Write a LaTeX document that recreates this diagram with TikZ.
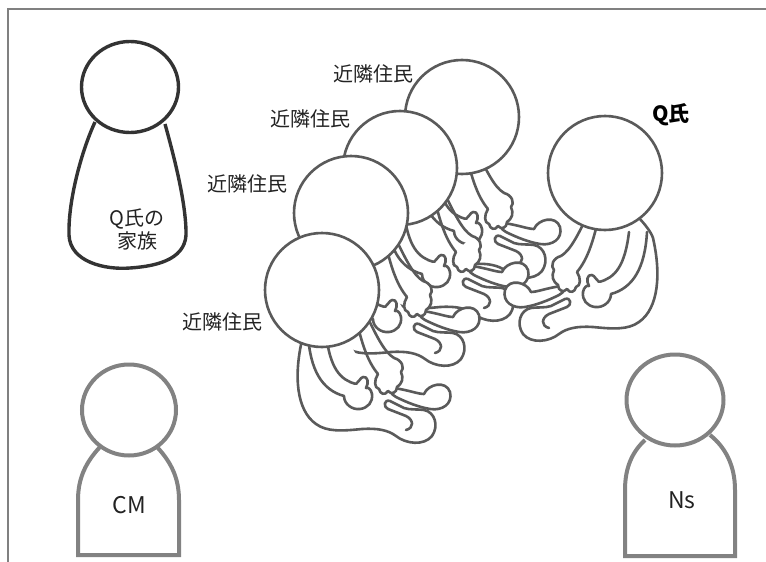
\documentclass[tikz,border=0pt]{standalone}
\usepackage{fontspec}
\setmainfont{Noto Sans CJK JP}
\definecolor{framegray}{HTML}{808080}
\definecolor{famgray}{HTML}{333333}
\definecolor{figgray}{HTML}{5A5A5A}
\definecolor{staffgray}{HTML}{828282}
\definecolor{textgray}{HTML}{222222}

\tikzset{
    figline/.style={draw=figgray, line width=2.6pt, line cap=round, line join=round},
    label/.style={text=textgray, font=\fontsize{20}{23}\selectfont, inner sep=0pt},
    head/.style={figline, fill=white},
    % body, arms and feet of a person sitting on the floor, looking to the right
    % (the head is drawn on its own afterwards)
    sitter/.pic={
        %body
        \fill[white] (-4,28) .. controls (-12,36) and (-18,44) .. (-20,50)
            .. controls (-28,85) and (-26,120) .. (-6,134)
            .. controls (5,142) and (20,141) .. (40,139)
            .. controls (55,138) and (66,140) .. (74,146) -- (60,110) -- (20,40) -- cycle;
        \draw[figline] (-4,28) .. controls (-12,36) and (-18,44) .. (-20,50)
            .. controls (-28,85) and (-26,120) .. (-6,134)
            .. controls (5,142) and (20,141) .. (40,139)
            .. controls (55,138) and (66,140) .. (74,146);
        %lower foot
        \filldraw[figline, fill=white] (74,146) .. controls (84,154) and (102,156) .. (110,146)
            .. controls (117,136) and (113,122) .. (102,120)
            .. controls (94,119) and (88,120) .. (82,118) -- (68,111)
            .. controls (62,109) and (61,117) .. (66,119) -- (84,126)
            .. controls (92,130) and (92,138) .. (84,140);
        %upper foot
        \filldraw[figline, fill=white] (72,98) .. controls (86,100) and (96,104) .. (102,104)
            .. controls (106,94) and (124,90) .. (128,102)
            .. controls (131,114) and (120,121) .. (108,119)
            .. controls (96,117) and (84,112) .. (74,107)
            .. controls (68,104) and (67,99) .. (72,98) -- cycle;
        %far arm
        \draw[figline] (34,28) .. controls (40,55) and (46,72) .. (56,84);
        \draw[figline] (42,20) .. controls (54,45) and (62,62) .. (72,68);
        \filldraw[figline, fill=white] (56,84) .. controls (52,90) and (52,98) .. (57,99)
            .. controls (58,104) and (63,106) .. (66,101)
            .. controls (69,105) and (75,103) .. (75,97)
            .. controls (80,94) and (82,88) .. (79,82)
            .. controls (83,78) and (80,70) .. (72,68);
        %near arm
        \draw[figline] (-14,44) .. controls (-12,80) and (0,100) .. (22,106);
        \draw[figline] (4,44) .. controls (8,78) and (18,90) .. (34,94);
        \filldraw[figline, fill=white] (22,106) .. controls (22,114) and (30,120) .. (38,119)
            .. controls (46,118) and (51,112) .. (50,104)
            .. controls (49,99) and (46,97) .. (44,98)
            .. controls (47,93) and (46,86) .. (41,87)
            .. controls (38,88) and (37,92) .. (34,94);
    }
}

\begin{document}
\begin{tikzpicture}[x=1pt, y=-1pt]
    \useasboundingbox (0,0) rectangle (766,562);

    %frame
    \draw[framegray, line width=1.4pt] (8,562) -- (8,9) -- (766,9);

    %family
    \draw[famgray, line width=3.4pt] (95,122) .. controls (82,150) and (68,200) .. (69,235)
        .. controls (70,262) and (105,270) .. (130,268)
        .. controls (160,266) and (188,258) .. (186,230)
        .. controls (185,200) and (175,160) .. (165,124);
    \filldraw[famgray, fill=white, line width=3.4pt] (130,87) ellipse (48.5pt and 45.5pt);
    \node[label] (fam) at (137,232) {\begin{tabular}{@{}c@{}}Q氏の\\家族\end{tabular}};

    %neighbours, back to front
    \pic at (432,125) {sitter};
    \filldraw[head] (462,117) circle (57pt);
    \pic at (400,168) {sitter};
    \filldraw[head] (400,168) circle (57pt);
    \pic at (351,213) {sitter};
    \filldraw[head] (351,213) circle (57pt);
    \pic at (322,290) {sitter};
    \filldraw[head] (322,290) circle (57pt);

    %Q, facing the neighbours
    \pic[xscale=-1] at (633,188) {sitter};
    \filldraw[head] (605,173) circle (57pt);

    %labels
    \node[label] (nb1) at (373,74) {近隣住民};
    \node[label] (nb2) at (310,119) {近隣住民};
    \node[label] (nb3) at (247,184) {近隣住民};
    \node[label] (nb4) at (222,322) {近隣住民};
    \node[label, text=black, font=\fontsize{21}{24}\bfseries] (q) at (671,115) {Q氏};

    %CM
    \draw[staffgray, line width=4pt] (100,447) .. controls (86,462) and (78,478) .. (78,500)
        -- (78,555) -- (179,555) -- (179,500) .. controls (179,478) and (171,462) .. (157,447);
    \draw[staffgray, line width=4pt] (129,410) ellipse (47pt and 45.5pt);
    \node[label, font=\fontsize{23}{26}\selectfont] (cm) at (129,505) {CM};

    %Ns
    \draw[staffgray, line width=4pt] (645,440) .. controls (632,452) and (625,468) .. (625,490)
        -- (625,556) -- (735,556) -- (735,490) .. controls (735,465) and (725,447) .. (710,435);
    \draw[staffgray, line width=4pt] (675,400) ellipse (48.5pt and 45.5pt);
    \node[label, font=\fontsize{23}{26}\selectfont] (ns) at (682,500) {Ns};
\end{tikzpicture}
\end{document}
